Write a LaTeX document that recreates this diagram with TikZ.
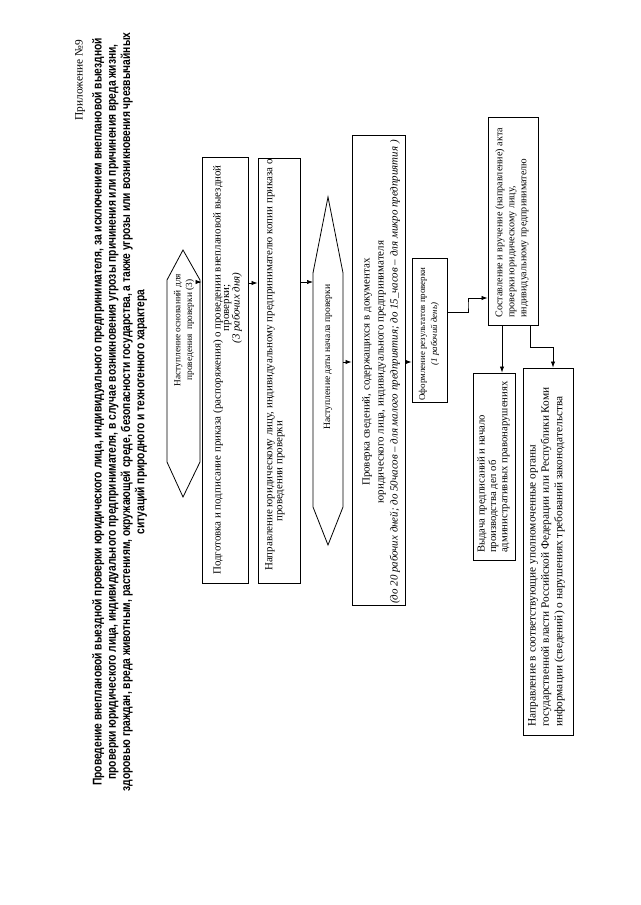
\documentclass[tikz,border=0pt]{standalone}
\usepackage{fontspec}
\setmainfont{Liberation Serif}
\newfontfamily\titlefont[FakeStretch=0.81]{Liberation Sans}
\usetikzlibrary{arrows.meta,fit,calc}
\begin{document}
\begin{tikzpicture}[x=0.75pt,y=-0.75pt,
  box/.style={draw,line width=0.6pt,inner sep=0pt},
  arr/.style={-{Latex[length=4.5pt,width=3.2pt]},line width=0.5pt},
  ln/.style={line width=0.6pt},
  txt/.style={rotate=90,inner sep=0pt,font=\fontsize{8.2}{9}\selectfont}]
\useasboundingbox (0,0) rectangle (640,905);
\fill[white] (0,0) rectangle (640,905);

% title
\node[rotate=90,anchor=east,inner sep=0pt,font=\fontsize{8.5}{10}\selectfont] (app) at (80,40) {Приложение №9};
\node[rotate=90,inner sep=0pt,align=center,font=\titlefont\bfseries\fontsize{9.5}{10.7}\selectfont] (title) at (119.5,412)
 {Проведение внеплановой выездной проверки юридического лица, индивидуального предпринимателя, за исключением внеплановой выездной\\
  проверки юридического лица, индивидуального предпринимателя, в случае возникновения угрозы причинения или причинения вреда жизни,\\
  здоровью граждан, вреда животным, растениям, окружающей среде, безопасности государства, а также угрозы или возникновения чрезвычайных\\
  ситуаций природного и техногенного характера};

% hexagon 1
\draw[ln] (183,250) -- (200,280) -- (200,462) -- (183,497) -- (167,462) -- (167,280) -- cycle;
\coordinate (h1e) at (200,282);
\node[txt,align=center,font=\fontsize{7.0}{8.8}\selectfont] (th1) at (184,330) {Наступление оснований для\\проведения\ \ проверки (3)};

% box 1
\node[box,fit={(202,157)(248,583)}] (b1) {};
\node[txt] (t1a) at (218,370) {Подготовка и подписание приказа (распоряжения) о проведении внеплановой выездной};
\node[txt,align=center,font=\fontsize{8.2}{7.8}\selectfont] (t1b) at (233,308) {проверки;\\\textit{(3 рабочих дня)}};

% box 2
\node[box,fit={(258,158)(300,583)}] (b2) {};
\node[txt] (t2a) at (270,365) {Направление юридическому лицу, индивидуальному предпринимателю копии приказа о};
\node[txt,anchor=west] (t2b) at (281,522) {проведении проверки};

% hexagon 2
\draw[ln] (328,197) -- (343,273) -- (343,507) -- (328,545) -- (313,507) -- (313,273) -- cycle;
\coordinate (h2w) at (313,282);
\coordinate (h2e) at (343,362);
\node[txt,font=\fontsize{7.2}{8}\selectfont] (th2) at (328,357) {Наступление даты начала проверки};

% box 3
\node[box,fit={(352,135)(405,605)}] (b3) {};
\node[txt,align=center,font=\fontsize{8.2}{10.5}\selectfont] (t3) at (381,372)
 {Проверка сведений, содержащихся в документах\\юридического лица, индивидуального предпринимателя\\
  \textit{(до 20 рабочих дней; до 50часов – для малого предприятия; до 15\_часов – для микро предприятия )}};

% box 4
\node[box,fit={(412,258)(447,402)}] (b4) {};
\node[txt,align=center,font=\fontsize{6.7}{9}\selectfont] (t4) at (429,334) {Оформление результатов проверки\\\textit{(1 рабочий день)}};

% box 5
\node[box,fit={(488,117)(538,325)}] (b5) {};
\node[txt,align=left,anchor=west,font=\fontsize{7.6}{9}\selectfont] (t5) at (512,318)
 {Составление и вручение (направление) акта\\проверки юридическому лицу,\\индивидуальному предпринимателю};

% box 6
\node[box,fit={(473,373)(515,560)}] (b6) {};
\node[txt,align=left,anchor=west,font=\fontsize{8.0}{8.6}\selectfont] (t6) at (493.5,553)
 {Выдача предписаний и начало\\производства дел об\\административных правонарушениях};

% box 7
\node[box,fit={(523,368)(573,735)}] (b7) {};
\node[txt,align=left,anchor=west,font=\fontsize{8.5}{10.1}\selectfont] (t7) at (546.5,727)
 {Направление в соответствующие уполномоченные органы\\государственной власти Российской Федерации или Республики Коми\\информации (сведений) о нарушениях требований законодательства};

% connectors
\coordinate (r1) at (0,283);
\coordinate (r2) at (0,312);
\coordinate (r3) at (0,298);
\coordinate (j1) at (468,305);
\coordinate (c1) at (502,0);
\coordinate (c2) at (530,0);
\coordinate (j2) at (553,347);
\draw[arr] (h1e) -- (h1e -| b1.west);
\draw[arr] (b1.east |- r1) -- (b2.west |- r1);
\draw[arr] (b2.east |- h2w) -- (h2w);
\draw[arr] (h2e) -- (h2e -| b3.west);
\draw[arr] (b3.east |- h2e) -- (b4.west |- h2e);
\draw[arr] (b4.east |- r2) -| (j1) |- (b5.west |- r3);
\draw[arr] (b5.south -| c1) -- (b6.north -| c1);
\draw[arr] (b5.south -| c2) |- (j2) -- (b7.north -| j2);
\end{tikzpicture}
\end{document}
